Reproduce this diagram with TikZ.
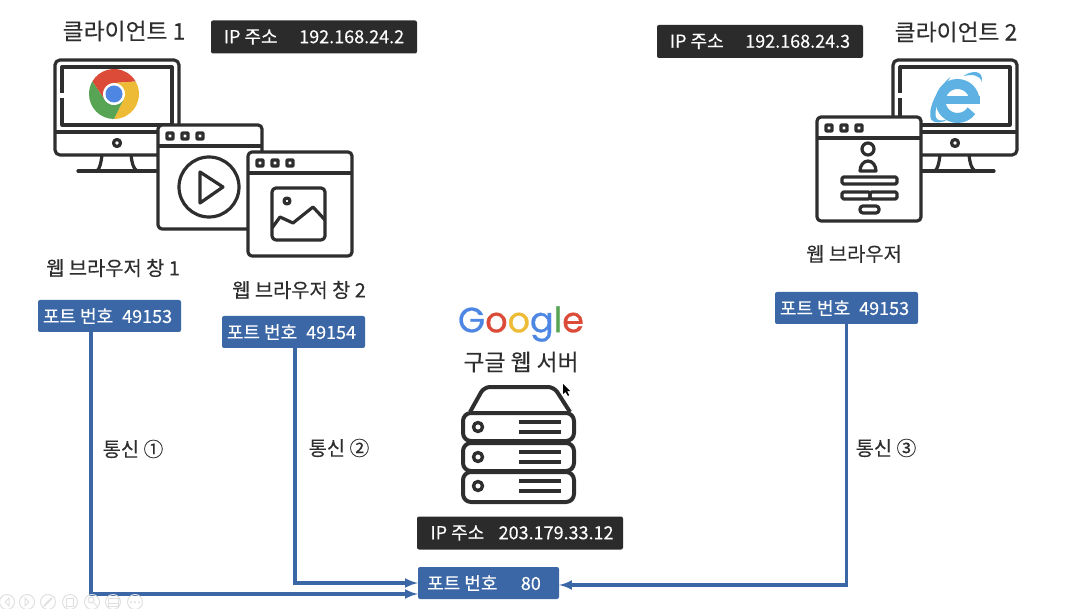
\documentclass[tikz,border=0pt]{standalone}
\usepackage{fontspec}
\setmainfont[FakeBold=0.25]{Noto Sans CJK KR}
\newfontfamily\logofont[FakeBold=0.7]{Poppins}
\usepackage{xcolor}
\usetikzlibrary{positioning}
\definecolor{Schwarz}{HTML}{2E2E2E}
\definecolor{Box}{HTML}{2B2B2B}
\definecolor{Port}{HTML}{3B67A6}
\definecolor{Ie}{HTML}{5DB2E3}
\definecolor{gRed}{HTML}{DB4B37}
\definecolor{gYellow}{HTML}{EDBB36}
\definecolor{gGreen}{HTML}{57A554}
\definecolor{gBlue}{HTML}{4E86E4}
\tikzset{
  Titel/.style={text=Schwarz,font=\fontsize{22.8}{24}\selectfont},
  Text/.style={text=Schwarz,font=\fontsize{19.8}{22}\selectfont},
  IPBox/.style={fill=Box,text=white,rounded corners=2pt,minimum width=206pt,minimum height=33pt,inner sep=0pt,font=\fontsize{18}{20}\selectfont},
  PortBox/.style={fill=Port,text=white,rounded corners=2pt,minimum width=143pt,minimum height=32pt,inner sep=0pt,font=\fontsize{18}{20}\selectfont},
  Leitung/.style={draw=Port,line width=3.3pt,->},
  Icon/.style={draw=Schwarz,line width=3.2pt,line join=round},
  Knopf/.style={Icon,fill=white,rounded corners=.5pt},
  Leiste/.style={draw=black!12,line width=1pt},
  monitor/.pic={
    \draw[Icon,fill=white,rounded corners=5pt] (0,0) rectangle (124,95);
    \draw[Icon] (7,33) -- (7,7) -- (117,7) -- (117,65) -- (7,65) -- (7,38);
    \draw[Icon] (0,72) -- (124,72);
    \draw[Icon] (62,83) circle (3.5);
    \draw[Icon] (47,95) .. controls (46,103) and (45,108) .. (42,111);
    \draw[Icon] (76,95) .. controls (77,103) and (78,108) .. (82,111);
    \draw[Icon,line cap=round] (23,111) -- (101,111);
  },
  fenster/.pic={
    \draw[Icon,fill=white,rounded corners=4pt] (0,0) rectangle (104,104);
    \draw[Icon] (0,21) -- (104,21);
    \foreach \x in {9,24,39}
      \draw[Knopf] (\x,8) rectangle ++(6,6);
  },
  chrome/.pic={
    \begin{scope}[y=1pt]
    \foreach \farbe/\winkel in {gRed/0,gYellow/-120,gGreen/120}
      \fill[\farbe,rotate=\winkel] (150:25) arc (150:30:25) -- (0,11) arc (90:210:11) -- cycle;
    \fill[white] (0,0) circle (11);
    \fill[gBlue] (0,0) circle (8.5);
    \end{scope}
  },
  ie/.pic={
    \begin{scope}[y=1pt]
    \draw[Ie,line width=10pt] (17,0) arc (0:325:17);
    \fill[Ie] (-14,-3) rectangle (22,5);
    \fill[Ie] (-7,24) .. controls (-22,12) and (-31,-12) .. (-26,-19)
      .. controls (-23,-23) and (-15,-22) .. (-9,-18)
      .. controls (-15,-20) and (-21,-21) .. (-22,-15)
      .. controls (-23,-5) and (-15,12) .. (-7,24);
    \fill[Ie] (6,25) .. controls (14,31) and (27,31) .. (24,19)
      .. controls (23,26) and (15,27) .. (6,25);
    \end{scope}
  },
}
\begin{document}
\begin{tikzpicture}[x=1pt,y=-1pt,>=latex]
\useasboundingbox (0,0) rectangle (1084,609);

%Client 1
\pic at (55,60) {monitor};
\pic at (114,94) {chrome};
\pic (W1) at (158,125) {fenster};
\draw[Icon] (209,187) circle (30);
\draw[Icon] (200,172) -- (223,187) -- (200,203) -- cycle;
\pic (W2) at (248,152) {fenster};
\draw[Icon,rounded corners=4pt] (272,188) rectangle (325,240);
\draw[Icon] (287,201) circle (3);
\draw[Icon] (272,228) -- (280,217) -- (293,223) -- (313,207) -- (325,220);

%Client 2
\pic at (893,60) {monitor};
\pic at (957.5,101) {ie};
\pic (W3) at (817,117) {fenster};
\draw[Icon] (868,149) circle (6);
\draw[Icon] (860,171) arc (180:360:8 and 10) -- cycle;
\draw[Icon,rounded corners=1.5pt] (842,177) rectangle (897,184);
\draw[Icon,rounded corners=1.5pt] (842,192) rectangle (870,199);
\draw[Icon,rounded corners=1.5pt] (870,192) rectangle (897,199);
\draw[Icon,rounded corners=3pt] (860,206) rectangle (879,213);

%Server
\draw[Icon,line width=4pt,rounded corners=6pt] (470,412) -- (484,387) -- (554,387) -- (570,412);
\foreach \y/\h in {413/28,443/28,472/30}{
  \draw[Icon,line width=4pt,fill=white,rounded corners=8pt] (463,\y) rectangle ++(111,\h);
  \draw[Icon,line width=3.4pt] (478,\y+14) circle (4.5);
  \draw[Icon,line width=3.2pt] (519,\y+9) -- (561,\y+9);
  \draw[Icon,line width=3.2pt] (519,\y+19) -- (561,\y+19);
}

%Beschriftung
\node[Titel] (client1) at (124,31) {클라이언트 1};
\node[Titel] (client2) at (956,32) {클라이언트 2};
\node[IPBox] (ip1) at (314,37) {IP 주소\hspace{1.2em}192.168.24.2};
\node[IPBox] (ip2) at (760,41.5) {IP 주소\hspace{1.2em}192.168.24.3};
\node[IPBox] (ip3) at (520,533) {\hspace{4pt}IP 주소\hspace{.8em}203.179.33.12};
\node[Text] (name1) at (113,268) {웹 브라우저 창 1};
\node[Text] (name2) at (299,290) {웹 브라우저 창 2};
\node[Text] (name3) at (854,254) {웹 브라우저};
\node[PortBox] (port1) at (109.5,316) {포트 번호\hspace{.5em}49153\rule{4pt}{0pt}};
\node[PortBox] (port2) at (293.5,332) {포트 번호\hspace{.5em}49154\rule{4pt}{0pt}};
\node[PortBox] (port3) at (846.5,308) {포트 번호\hspace{.5em}49153\rule{4pt}{0pt}};
\node[PortBox,minimum width=141pt] (port80) at (488.5,583) {포트 번호\hspace{1.3em}80\rule{9pt}{0pt}};
\node[inner sep=0pt,font=\logofont\fontsize{35}{40}\selectfont] (google) at (521,324)
  {\textcolor{gBlue}{G}\textcolor{gRed}{o}\textcolor{gYellow}{o}\textcolor{gBlue}{g}\textcolor{gGreen}{l}\textcolor{gRed}{e}};
\node[Titel] (server) at (521,362) {구글 웹 서버};
\node[Text] (com1) at (133,449) {통신 ①};
\node[Text] (com2) at (339,448) {통신 ②};
\node[Text] (com3) at (886,448) {통신 ③};

%Leitungen
\draw[Leitung] ([xshift=-18.5pt]port1.south) |- ([yshift=-11pt]port80.west);
\draw[Leitung] ([xshift=1.5pt]port2.south) |- (port80.west);
\draw[Leitung] (port3.south) |- ([yshift=-2pt]port80.east);

%Leiste
\foreach \x in {7,27,48,70,92,113,135}
  \draw[Leiste] (\x,602) circle (7.5);
\draw[Leiste] (9,598) -- (5,602) -- (9,606) -- cycle;
\draw[Leiste] (25,598) -- (29,602) -- (25,606) -- cycle;
\draw[Leiste,line width=2pt] (44,606) -- (52,598);
\draw[Leiste] (66,598) rectangle (73,606);
\draw[Leiste] (91,600) circle (3) (93,602) -- (97,606);
\draw[Leiste] (108,598) rectangle (118,606) (108,603) -- (118,603);
\foreach \x in {131,135,139}
  \fill[black!15] (\x,602) circle (1);
\fill[black] (563,384) -- (563,394) -- (565.5,392) -- (568,396) -- (569,395) -- (567,391) -- (570,391) -- cycle;
\end{tikzpicture}
\end{document}
